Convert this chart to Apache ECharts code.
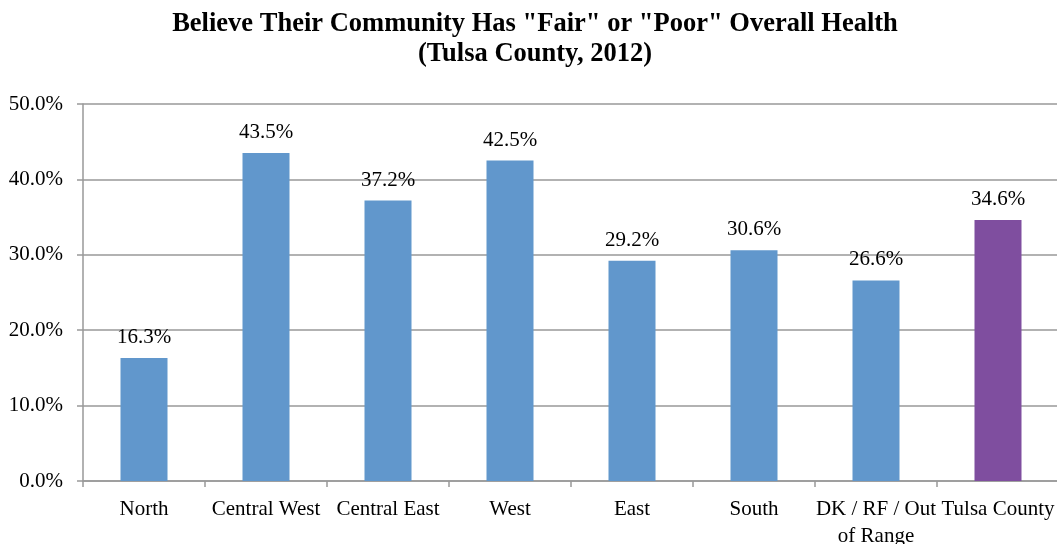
<!DOCTYPE html>
<html>
<head>
<meta charset="utf-8">
<script src="https://cdn.jsdelivr.net/npm/echarts@6/dist/echarts.min.js"></script>
<style>
  html, body { margin: 0; padding: 0; background: #fff; }
  #chart { width: 1057px; height: 544px; }
</style>
</head>
<body>
<div id="chart"></div>
<script>
// regions and percent who rate community health fair/poor
var regions = ['North', 'Central West', 'Central East', 'West', 'East', 'South', 'DK / RF / Out\nof Range', 'Tulsa County'];
var pctFairPoor = [16.3, 43.5, 37.2, 42.5, 29.2, 30.6, 26.6, 34.6];
var barColors = ['#6197CC', '#6197CC', '#6197CC', '#6197CC', '#6197CC', '#6197CC', '#6197CC', '#7F4E9F'];

var font = '"Liberation Serif", "Times New Roman", serif';

var chart = echarts.init(document.getElementById('chart'));
chart.setOption({
    animation: false,
    backgroundColor: '#fff',
    graphic: [{
        type: 'text',
        x: 535,
        y: 9,
        style: {
            text: 'Believe Their Community Has "Fair" or "Poor" Overall Health\n(Tulsa County, 2012)',
            textAlign: 'center',
            fontFamily: font,
            fontWeight: 'bold',
            fontSize: 26.5,
            lineHeight: 30,
            fill: '#000'
        }
    }],
    grid: {
        left: 83,
        right: -2,
        top: 104,
        bottom: 63,
        outerBoundsMode: 'none'
    },
    xAxis: {
        type: 'category',
        data: regions,
        axisLine: { lineStyle: { color: '#999', width: 1.5 } },
        axisTick: { show: true, length: 6, lineStyle: { color: '#999', width: 1.5 } },
        axisLabel: {
            interval: 0,
            margin: 15,
            fontFamily: font,
            fontSize: 21,
            lineHeight: 27,
            color: '#000'
        }
    },
    yAxis: {
        type: 'value',
        min: 0,
        max: 50,
        interval: 10,
        axisLine: { show: true, lineStyle: { color: '#999', width: 1.5 } },
        axisTick: { show: true, length: 6, lineStyle: { color: '#999', width: 1.5 } },
        splitLine: { lineStyle: { color: '#999', width: 1.5 } },
        axisLabel: {
            margin: 20,
            fontFamily: font,
            fontSize: 21,
            color: '#000',
            formatter: function (v) { return v.toFixed(1) + '%'; }
        }
    },
    series: [{
        type: 'bar',
        barWidth: 47,
        data: pctFairPoor.map(function (v, i) {
            return { value: v, itemStyle: { color: barColors[i] } };
        }),
        label: {
            show: true,
            position: 'top',
            distance: 10,
            fontFamily: font,
            fontSize: 21,
            color: '#000',
            formatter: function (p) { return p.value.toFixed(1) + '%'; }
        }
    }]
});
</script>
</body>
</html>
